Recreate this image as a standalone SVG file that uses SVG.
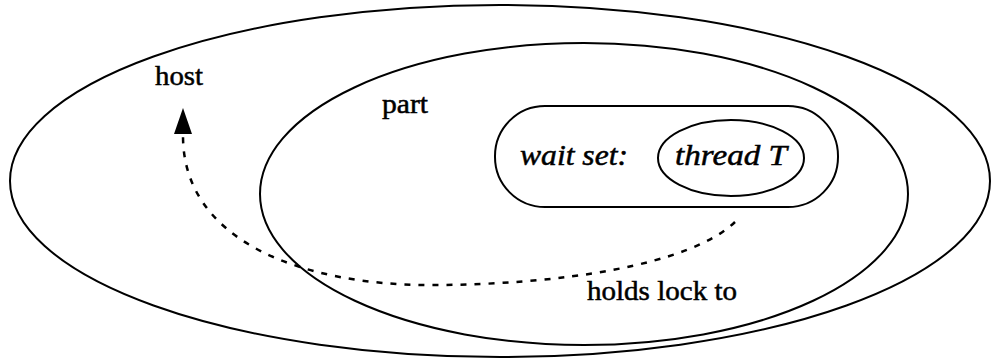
<svg xmlns="http://www.w3.org/2000/svg" width="992" height="362" viewBox="0 0 992 362">
<style>
.s{fill:none;stroke:#000;stroke-width:2}
.t{font-family:'Liberation Serif','Times New Roman','DejaVu Serif',serif;font-size:27px;fill:#000;stroke:#000;stroke-width:0.5}
.i{font-style:italic;font-size:29px}
.c{fill:none;stroke:#000;stroke-width:2.5;stroke-dasharray:6 8}
</style>
<rect width="992" height="362" fill="#fff"/>
<g id="host">
<ellipse class="s" cx="500" cy="181" rx="490" ry="176"/>
<text class="t" x="155" y="85" textLength="48" lengthAdjust="spacingAndGlyphs">host</text>
</g>
<g id="part">
<ellipse class="s" cx="584" cy="194" rx="324" ry="151"/>
<text class="t" x="382" y="113" textLength="46" lengthAdjust="spacingAndGlyphs">part</text>
</g>
<g id="waitset">
<rect class="s" x="495" y="106" width="343" height="101" rx="50" ry="50"/>
<text class="t i" x="520" y="165" textLength="108" lengthAdjust="spacingAndGlyphs">wait set:</text>
</g>
<g id="threadT">
<ellipse class="s" cx="731" cy="158" rx="73" ry="38"/>
<text class="t i" x="675" y="165" textLength="112" lengthAdjust="spacingAndGlyphs">thread T</text>
</g>
<g id="connectors">
<path class="c" d="M735 222 C690 265 560 285 430 285 C300 285 183 240 183 136"/>
<path d="M183 108 L192 134 L174 134 Z" fill="#000"/>
<text class="t" x="587" y="300" textLength="150" lengthAdjust="spacingAndGlyphs">holds lock to</text>
</g>
</svg>
